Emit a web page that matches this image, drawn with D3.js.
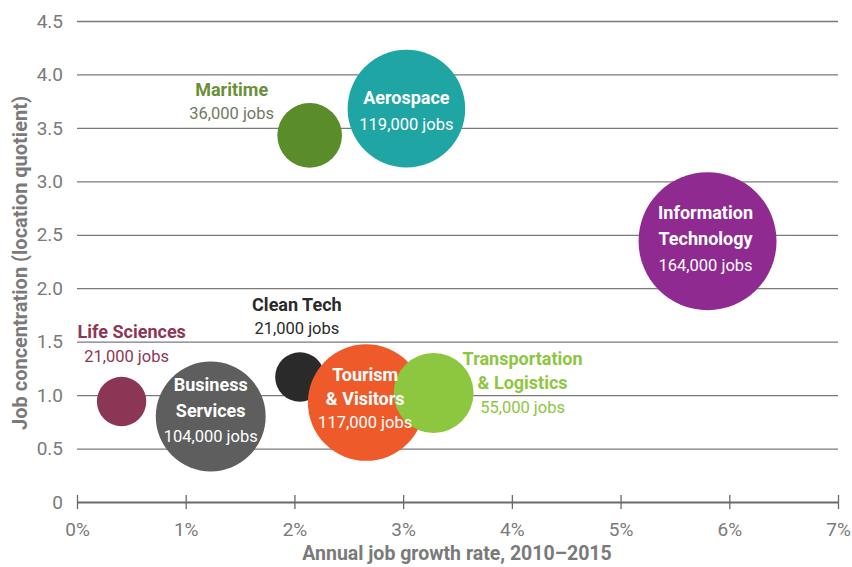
<!DOCTYPE html>
<html>
<head>
<meta charset="utf-8">
<script src="https://cdn.jsdelivr.net/npm/d3@7"></script>
<style>
  body { margin: 0; background: #fff; }
  svg text { font-family: Roboto, "Liberation Sans", sans-serif; }
</style>
</head>
<body>
<div id="chart"></div>
<script>
// data
var clusters = ["Life Sciences", "Business Services", "Clean Tech", "Tourism & Visitors",
                "Transportation & Logistics", "Maritime", "Aerospace", "Information Technology"];
var growth = [0.41, 1.23, 2.05, 2.66, 3.28, 2.14, 3.03, 5.80];      // % per year
var concentration = [0.94, 0.80, 1.17, 0.93, 1.02, 3.43, 3.68, 2.44];
var jobs = [21000, 104000, 21000, 117000, 55000, 36000, 119000, 164000];
var colors = ["#8c3656", "#5e5e5e", "#2a2a2a", "#ef5a2a", "#8dc63f", "#5b8c2a", "#20a5a5", "#8e2a90"];
var yTicks = [0, 0.5, 1, 1.5, 2, 2.5, 3, 3.5, 4, 4.5];
var xTicks = [0, 1, 2, 3, 4, 5, 6, 7];

var W = 852, H = 567;
var margin = { top: 21, right: 14, bottom: 65, left: 77 };
var width = W - margin.left - margin.right;
var height = H - margin.top - margin.bottom;

var svg = d3.select("#chart").append("svg")
    .attr("width", W)
    .attr("height", H);

var g = svg.append("g")
    .attr("transform", "translate(" + margin.left + "," + margin.top + ")");

var x = d3.scaleLinear().domain([0, 7]).range([0, width]);
var y = d3.scaleLinear().domain([0, 4.5]).range([height, 0]);
var r = d3.scaleSqrt().domain([0, 164000]).range([0, 69]);

// gridlines
var grid = g.append("g")
    .call(d3.axisLeft(y).tickValues(yTicks.slice(1)).tickSize(-width).tickFormat(""));
grid.select(".domain").remove();
grid.selectAll("line").attr("stroke", "#7a7a7a").attr("stroke-width", 1.3);

// y tick labels
g.selectAll(".ylab")
    .data(yTicks)
    .enter().append("text")
    .attr("x", -14)
    .attr("y", d => y(d))
    .attr("dy", "0.35em")
    .attr("text-anchor", "end")
    .attr("font-size", 19)
    .attr("fill", "#7a7a7a")
    .text(d => d === 0 ? "0" : d.toFixed(1));

// x axis (ticks cross the line)
var xAxis = g.append("g")
    .attr("transform", "translate(0," + height + ")")
    .call(d3.axisBottom(x).tickValues(xTicks).tickSize(7).tickSizeOuter(0).tickFormat(d => d + "%"));
xAxis.select(".domain").attr("stroke", "#6a6a6a").attr("stroke-width", 2.2);
xAxis.selectAll(".tick line").attr("y1", -7).attr("stroke", "#6a6a6a").attr("stroke-width", 1.3);
xAxis.selectAll(".tick text")
    .attr("y", 21)
    .attr("font-size", 19)
    .attr("fill", "#7a7a7a");

// bubbles
var order = d3.range(clusters.length);
g.selectAll(".bubble")
    .data(order)
    .enter().append("circle")
    .attr("class", "bubble")
    .attr("cx", i => x(growth[i]))
    .attr("cy", i => y(concentration[i]))
    .attr("r", i => r(jobs[i]))
    .attr("fill", i => colors[i]);

// label layout relative to each bubble centre
var labelLayout = {
  "Life Sciences": { lines: ["Life Sciences", "21,000 jobs"], dx: [-44, 5], dy: -70, anchor: ["start", "middle"], fill: ["#8c3656", "#8c3656"], lh: 25 },
  "Business Services": { lines: ["Business", "Services", "104,000 jobs"], dx: 0, dy: -32, fill: "#fff", lh: 26 },
  "Clean Tech": { lines: ["Clean Tech", "21,000 jobs"], dx: -3, dy: -72, fill: "#2a2a2a", lh: 23 },
  "Tourism & Visitors": { lines: ["Tourism", "& Visitors", "117,000 jobs"], dx: -1, dy: -28, fill: "#fff", lh: 24 },
  "Transportation & Logistics": { lines: ["Transportation", "& Logistics", "55,000 jobs"], dx: 89, dy: -34, fill: "#8dc63f", lh: 24 },
  "Maritime": { lines: ["Maritime", "36,000 jobs"], dx: -78, dy: -46, fill: ["#6a8f38", "#6f7a5f"], lh: 24 },
  "Aerospace": { lines: ["Aerospace", "119,000 jobs"], dx: 0, dy: -11, fill: "#fff", lh: 27 },
  "Information Technology": { lines: ["Information", "Technology", "164,000 jobs"], dx: -2, dy: -28, fill: "#fff", lh: 26 }
};

order.forEach(function(i) {
  var L = labelLayout[clusters[i]];
  var cx = x(growth[i]), cy = y(concentration[i]);
  L.lines.forEach(function(line, k) {
    var isJobs = /jobs/.test(line);
    var dx = Array.isArray(L.dx) ? L.dx[k] : L.dx;
    var anchor = Array.isArray(L.anchor) ? L.anchor[k] : (L.anchor || "middle");
    var fill = Array.isArray(L.fill) ? L.fill[k] : L.fill;
    g.append("text")
      .attr("x", cx + dx)
      .attr("y", cy + L.dy + k * L.lh)
      .attr("dy", "0.35em")
      .attr("text-anchor", anchor)
      .attr("font-size", isJobs ? 16.5 : 18)
      .attr("font-weight", isJobs ? "normal" : "bold")
      .attr("fill", fill)
      .text(line);
  });
});

// axis titles
svg.append("text")
    .attr("x", 457)
    .attr("y", H - 7)
    .attr("text-anchor", "middle")
    .attr("font-size", 19.5)
    .attr("font-weight", "bold")
    .attr("fill", "#7a7a7a")
    .text("Annual job growth rate, 2010\u20132015");

svg.append("text")
    .attr("transform", "translate(27,263) rotate(-90)")
    .attr("text-anchor", "middle")
    .attr("font-size", 20)
    .attr("font-weight", "bold")
    .attr("fill", "#7a7a7a")
    .text("Job concentration (location quotient)");
</script>
</body>
</html>
